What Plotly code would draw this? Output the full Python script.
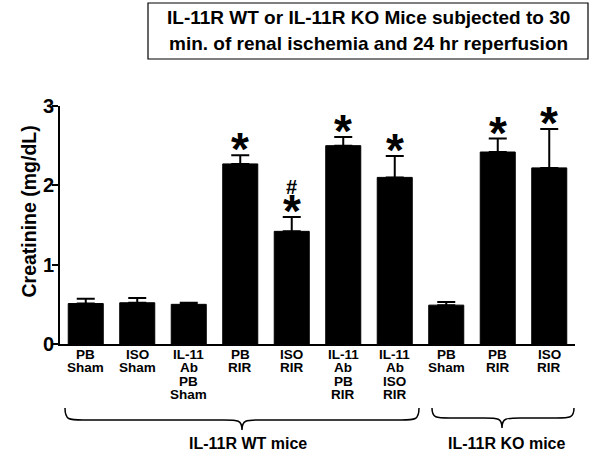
import plotly.graph_objects as go

# ---- data ----
categories = ["PB Sham", "ISO Sham", "IL-11 Ab PB Sham", "PB RIR", "ISO RIR",
              "IL-11 Ab PB RIR", "IL-11 Ab ISO RIR", "KO PB Sham", "KO PB RIR", "KO ISO RIR"]
tick_lines = [["PB", "Sham"], ["ISO", "Sham"], ["IL-11", "Ab", "PB", "Sham"], ["PB", "RIR"],
              ["ISO", "RIR"], ["IL-11", "Ab", "PB", "RIR"], ["IL-11", "Ab", "ISO", "RIR"],
              ["PB", "Sham"], ["PB", "RIR"], ["ISO", "RIR"]]
creatinine = [0.51, 0.52, 0.50, 2.27, 1.42, 2.50, 2.10, 0.49, 2.42, 2.22]
sem = [0.06, 0.06, 0.02, 0.11, 0.18, 0.11, 0.27, 0.04, 0.17, 0.49]
star_marks = [False, False, False, True, True, True, True, False, True, True]
hash_marks = [False, False, False, False, True, False, False, False, False, False]
groups = ["IL-11R WT mice", "IL-11R KO mice"]
title_lines = ["IL-11R WT or IL-11R KO Mice subjected to 30",
               "min. of renal ischemia and 24 hr reperfusion"]
y_ticks = [0, 1, 2, 3]
y_title = "Creatinine (mg/dL)"

# ---- layout geometry (pixels) ----
W, H = 600, 453
ML, MR, MT, MB = 60, 25, 106, 109
PW, PH = W - ML - MR, H - MT - MB
FONT = "Liberation Sans, Arial, sans-serif"


def px_x(X):
    return (X - ML) / PW


def px_y(Y):
    return (H - MB - Y) / PH


def bold(size):
    return dict(family=FONT, size=size, color="black", weight="bold")


x_idx = list(range(len(categories)))

fig = go.Figure()
fig.add_trace(go.Bar(
    x=x_idx, y=creatinine, width=0.68,
    marker=dict(color="black", line=dict(color="black", width=1)),
    error_y=dict(type="data", array=sem, arrayminus=[0] * len(sem), symmetric=False,
                 color="black", thickness=2, width=9),
    showlegend=False, hoverinfo="skip",
))

annotations = []
# significance marks
for i, (v, e) in enumerate(zip(creatinine, sem)):
    if star_marks[i]:
        annotations.append(dict(x=i, y=v + e, xref="x", yref="y", text="*", showarrow=False,
                                yanchor="bottom", yshift=-21, borderpad=0, font=bold(46)))
    if hash_marks[i]:
        annotations.append(dict(x=i, y=v + e, xref="x", yref="y", text="#", showarrow=False,
                                yanchor="bottom", yshift=18, borderpad=0, font=bold(20)))

# y tick labels, set right against the tick marks
for v in y_ticks:
    annotations.append(dict(x=px_x(56), y=v, xref="paper", yref="y", text=str(v),
                            showarrow=False, xanchor="right", yanchor="middle",
                            font=bold(20)))

# category labels (one annotation per line for tight line spacing)
for i, lines in enumerate(tick_lines):
    for k, t in enumerate(lines):
        annotations.append(dict(x=i, y=px_y(354 + 13.5 * k), xref="x", yref="paper", text=t,
                                showarrow=False, yanchor="middle", xanchor="center",
                                borderpad=0, font=bold(13.5)))

# group labels
for gx, g in zip([247.5, 506], groups):
    annotations.append(dict(x=px_x(gx), y=px_y(443.5), xref="paper", yref="paper", text=g,
                            showarrow=False, yanchor="middle", xanchor="center",
                            font=bold(16)))

# title lines
for ty, t in zip([17, 43], title_lines):
    annotations.append(dict(x=px_x(368), y=px_y(ty), xref="paper", yref="paper", text=t,
                            showarrow=False, yanchor="middle", xanchor="center",
                            borderpad=0, font=bold(19)))

# y axis title
annotations.append(dict(x=px_x(28), y=px_y(211.5), xref="paper", yref="paper",
                        text=y_title, textangle=-90, showarrow=False,
                        xanchor="center", yanchor="middle", font=bold(19.5)))


def brace_path(x0, x1, xt, ytop, ymid, ytip):
    def P(X, Y):
        return f"{px_x(X):.5f},{px_y(Y):.5f}"
    r = 18
    return (f"M{P(x0, ytop)} C{P(x0, ymid)} {P(x0 + 4, ymid)} {P(x0 + r, ymid)} "
            f"L{P(xt - r, ymid)} C{P(xt - 4, ymid)} {P(xt, ymid)} {P(xt, ytip)} "
            f"C{P(xt, ymid)} {P(xt + 4, ymid)} {P(xt + r, ymid)} "
            f"L{P(x1 - r, ymid)} C{P(x1 - 4, ymid)} {P(x1, ymid)} {P(x1, ytop)}")


shapes = [
    dict(type="path", xref="paper", yref="paper",
         path=brace_path(65, 419, 242, 408, 420, 430),
         line=dict(color="black", width=1.5)),
    dict(type="path", xref="paper", yref="paper",
         path=brace_path(432, 574, 502, 408, 418, 428),
         line=dict(color="black", width=1.5)),
    dict(type="rect", xref="paper", yref="paper",
         x0=px_x(148), x1=px_x(588), y0=px_y(59), y1=px_y(3),
         line=dict(color="black", width=1.2), fillcolor="white", layer="below"),
]

fig.update_layout(
    width=W, height=H,
    margin=dict(l=ML, r=MR, t=MT, b=MB, pad=0),
    paper_bgcolor="white", plot_bgcolor="white",
    font=dict(family=FONT, color="black"),
    annotations=annotations, shapes=shapes,
    xaxis=dict(range=[-0.5, 9.5], showticklabels=False, ticks="", showgrid=False,
               zeroline=False, showline=True, linecolor="black", linewidth=2,
               fixedrange=True),
    yaxis=dict(range=[0, 3], tickvals=y_ticks, showticklabels=False,
               ticks="outside", ticklen=6, tickwidth=2, tickcolor="black",
               showgrid=False, zeroline=False, showline=True, linecolor="black",
               linewidth=2, fixedrange=True),
    bargap=0.32,
)

fig.write_html("out.html", config={"displayModeBar": False},
               post_script="document.body.style.margin='0';document.body.style.overflow='hidden';")
